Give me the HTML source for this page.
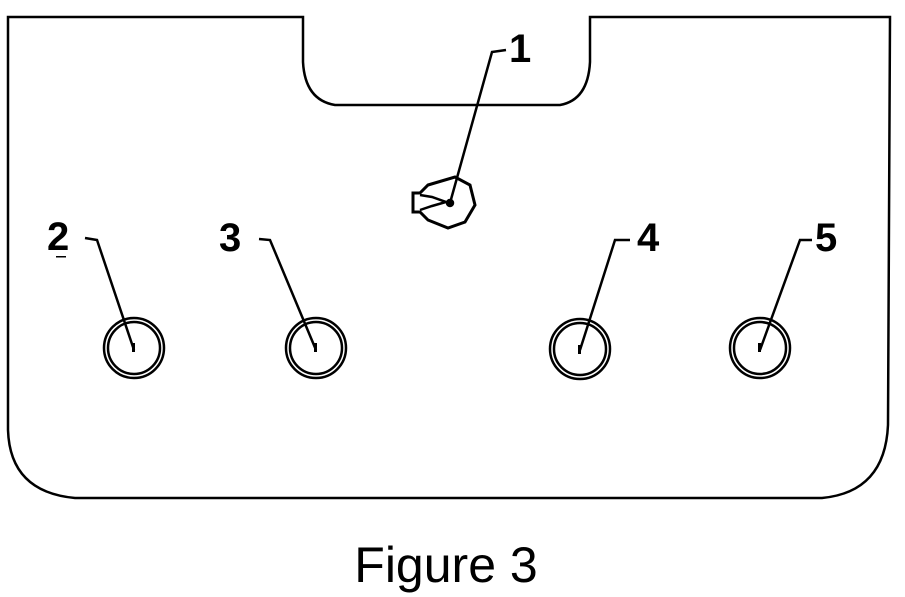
<!DOCTYPE html>
<html><head><meta charset="utf-8"><style>
html,body{margin:0;padding:0;background:#fff;}
svg{display:block}
</style></head><body>
<svg width="905" height="597" viewBox="0 0 905 597" xmlns="http://www.w3.org/2000/svg">
<g fill="none" stroke="#000" stroke-width="2.5">
<path d="M8,17 L303,17 L303,62 Q305,100 335,105 L560,105 Q588,100 590,62 L590,17 L890,17 L888,425 Q885,492 822,498 L75,498 Q10,492 8,430 Z"/>
<path d="M428,185 L455,177 L470,185 L475,205 L465,222 L448,228 L428,220 L420,212 L413,212 L413,193 L420,193 Z" stroke-width="3"/>
<path d="M420,195 L432,197 L446,202 L432,206 L420,210" stroke-width="2.5"/>
<circle cx="450" cy="203" r="3" fill="#000"/>
<g stroke-width="2.5">
<circle cx="134" cy="348" r="30"/><circle cx="134" cy="348" r="26"/>
<circle cx="316" cy="348" r="30"/><circle cx="316" cy="348" r="26"/>
<circle cx="580" cy="349" r="30"/><circle cx="580" cy="349" r="26"/>
<circle cx="760" cy="348" r="30"/><circle cx="760" cy="348" r="26"/>
</g>
<g stroke-width="2.5">
<polyline points="506,50 492,52 450,203"/>
<polyline points="85,238 97,240 134,350"/>
<polyline points="259,239 270,240 316,350"/>
<polyline points="630,240 615,240 580,350"/>
<polyline points="812,240 800,240 760,350"/>
</g>
</g>
<g fill="#000">
<rect x="132" y="343" width="3" height="9"/>
<rect x="314" y="343" width="3" height="9"/>
<rect x="578" y="345" width="3" height="9"/>
<rect x="758" y="343" width="3" height="9"/>
<rect x="56" y="256" width="10" height="1.5"/>
</g>
<g font-family="Liberation Sans, sans-serif" font-weight="bold" font-size="40" fill="#000">
<text x="509" y="62">1</text>
<text x="47" y="250">2</text>
<text x="219" y="251">3</text>
<text x="637" y="251">4</text>
<text x="815" y="251">5</text>
</g>
<text x="446" y="582" font-family="Liberation Sans, sans-serif" font-size="50" text-anchor="middle" fill="#000">Figure 3</text>
</svg>
</body></html>
